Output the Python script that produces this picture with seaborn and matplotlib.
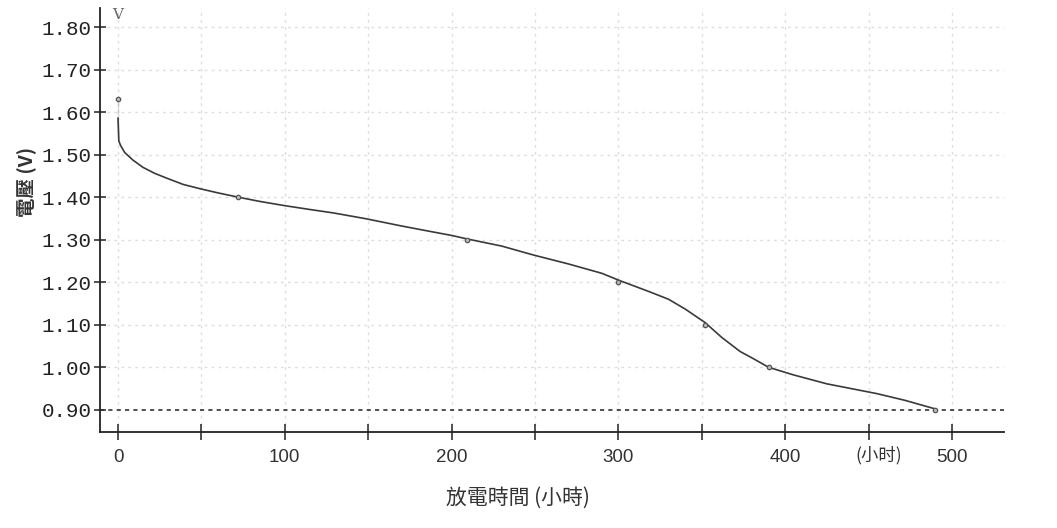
import matplotlib
matplotlib.use("Agg")
import matplotlib.pyplot as plt
import matplotlib.transforms as mtransforms
import numpy as np
import pandas as pd
import seaborn as sns

# discharge curve (hours, volts)
hours = [0, 0, 0.5, 1.5, 4, 9, 15, 22, 29, 39, 49, 60, 72, 85, 100, 115,
         129, 139, 149, 159, 169, 185, 200, 209, 230, 249, 270, 290, 300,
         319, 330, 340, 352, 362, 373, 381, 390, 405, 425, 455, 472, 490]
volts = [1.63, 1.542, 1.532, 1.522, 1.505, 1.487, 1.47, 1.456, 1.445, 1.43,
         1.42, 1.41, 1.40, 1.39, 1.38, 1.371, 1.363, 1.356, 1.349, 1.341,
         1.333, 1.321, 1.31, 1.302, 1.285, 1.264, 1.243, 1.221, 1.205, 1.177,
         1.16, 1.137, 1.105, 1.07, 1.037, 1.02, 1.00, 0.982, 0.961, 0.938,
         0.922, 0.902]

# marked points on the curve
mark_hours = [0, 72, 209, 300, 352, 390, 490]
mark_volts = [1.63, 1.40, 1.30, 1.20, 1.10, 1.00, 0.90]

cutoff = 0.90
y_ticks = [0.90, 1.00, 1.10, 1.20, 1.30, 1.40, 1.50, 1.60, 1.70, 1.80]
x_labels = [0, 100, 200, 300, 400, 500]

curve = pd.DataFrame({"hours": hours, "volts": volts})
marks = pd.DataFrame({"hours": mark_hours, "volts": mark_volts})

sns.set_style("white")
plt.rcParams["font.family"] = ["Noto Sans CJK TC", "DejaVu Sans"]

fig = plt.figure(figsize=(10.57, 5.28), dpi=100)
ax = fig.add_axes([0.0946, 0.182, 0.855, 0.803])

ax.set_xlim(-10.8, 531)
ax.set_ylim(0.848, 1.845)

# light dotted grid
for gx in range(0, 501, 50):
    ax.axvline(gx, color="#dedede", lw=1.0, ls=(0, (2, 3)), zorder=0)
for gy in y_ticks[1:]:
    ax.axhline(gy, color="#dedede", lw=1.0, ls=(0, (2, 3)), zorder=0)

# cut-off voltage line
ax.axhline(cutoff, color="#333333", lw=1.2, ls=(0, (2.5, 2.5)), zorder=1)

sns.lineplot(data=curve, x="hours", y="volts", sort=False, ax=ax,
             color="#3a3a3a", lw=1.2, zorder=3)
sns.scatterplot(data=marks, x="hours", y="volts", ax=ax, s=10,
                color="#bbbbbb", edgecolor="#555555", linewidth=0.9, zorder=4)

for side in ["top", "right"]:
    ax.spines[side].set_visible(False)
for side in ["left", "bottom"]:
    ax.spines[side].set_color("#222222")
    ax.spines[side].set_linewidth(1.3)

ax.set_xticks(range(0, 501, 50))
ax.set_xticklabels([str(v) if v in x_labels else "" for v in range(0, 501, 50)],
                   family="Liberation Sans", fontsize=13.5, color="#333333")
ax.set_yticks(y_ticks)
ax.set_yticklabels(["%.2f" % v for v in y_ticks], family="Liberation Mono",
                   fontsize=15, color="#222222")
ax.tick_params(axis="x", bottom=True, direction="inout", length=12, width=1.1,
               color="#222222", pad=6)
ax.tick_params(axis="y", left=True, direction="inout", length=8, width=1.1,
               color="#222222", pad=2)

ax.set_xlabel("放電時間 (小時)", fontsize=15, color="#333333")
ax.xaxis.set_label_coords(0.463, -0.13)
ax.set_ylabel("電壓 (V)", fontsize=14, fontweight="bold", color="#333333")
ax.yaxis.set_label_coords(-0.07, 0.59)

trans = mtransforms.blended_transform_factory(ax.transData, ax.transAxes)
ax.text(456, -0.033, "(小时)", transform=trans, fontsize=12.5, color="#333333",
        ha="center", va="top")
ax.text(0, 1.0, "V", transform=trans, fontsize=11, family="DejaVu Serif",
        color="#666666", ha="center", va="top")

fig.savefig("out.png", dpi=100)
